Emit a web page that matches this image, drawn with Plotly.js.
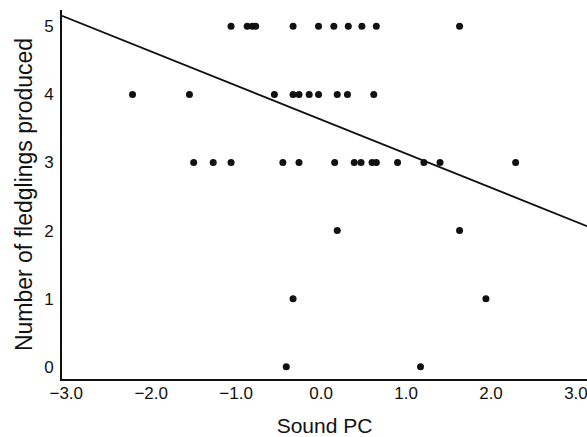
<!DOCTYPE html>
<html>
<head>
<meta charset="utf-8">
<script src="https://cdn.plot.ly/plotly-3.0.1.min.js"></script>
<style>html,body{margin:0;padding:0;background:#fff;}#chart{width:587px;height:437px;}</style>
</head>
<body>
<div id="chart"></div>
<script>
// Sound PC values grouped by number of fledglings produced
const fledglings5 = [-1.06, -0.87, -0.81, -0.77, -0.33, -0.03, 0.15, 0.32, 0.48, 0.65, 1.63];
const fledglings4 = [-2.22, -1.55, -0.55, -0.33, -0.26, -0.14, -0.03, 0.19, 0.31, 0.62];
const fledglings3 = [-1.50, -1.27, -1.06, -0.45, -0.26, 0.16, 0.39, 0.47, 0.60, 0.65, 0.90, 1.21, 1.40, 2.29];
const fledglings2 = [0.19, 1.63];
const fledglings1 = [-0.33, 1.94];
const fledglings0 = [-0.41, 1.17];

// Fitted regression line
const regIntercept = 3.63;
const regSlope = -0.5;

const xTickVals = [-3, -2, -1, 0, 1, 2, 3];
const xTickText = ['\u22123.0', '\u22122.0', '\u22121.0', '0.0', '1.0', '2.0', '3.0'];
const yTickVals = [0, 1, 2, 3, 4, 5];

const xRange = [-3.05, 3.13];
const yRange = [-0.18, 5.24];

const groups = [[fledglings0, 0], [fledglings1, 1], [fledglings2, 2], [fledglings3, 3], [fledglings4, 4], [fledglings5, 5]];
const px = [], py = [];
groups.forEach(([xs, y]) => xs.forEach(x => { px.push(x); py.push(y); }));

const lineX = [xRange[0], xRange[1]];
const lineY = lineX.map(x => regIntercept + regSlope * x);

const font = 'Liberation Sans, Arial, Helvetica, sans-serif';

const data = [
  { type: 'scatter', mode: 'lines', x: lineX, y: lineY,
    line: { color: '#111', width: 1.8 }, hoverinfo: 'skip' },
  { type: 'scatter', mode: 'markers', x: px, y: py,
    marker: { color: '#111', size: 7 } }
];

const layout = {
  width: 587, height: 437,
  margin: { l: 62, r: 0, t: 10, b: 58 },
  paper_bgcolor: '#fff', plot_bgcolor: '#fff',
  showlegend: false,
  font: { family: font, color: '#111', size: 17 },
  xaxis: {
    range: xRange, tickvals: xTickVals, ticktext: xTickText,
    showgrid: false, zeroline: false, showline: true, linecolor: '#111', linewidth: 2,
    ticks: '', ticklen: 0, ticklabelstandoff: -2, ticklabeloverflow: 'allow',
    tickfont: { family: font, size: 17, color: '#111' },
    title: { text: 'Sound PC', font: { family: font, size: 21, color: '#111' }, standoff: 17 }
  },
  yaxis: {
    range: yRange, tickvals: yTickVals,
    showgrid: false, zeroline: false, showline: true, linecolor: '#111', linewidth: 2,
    ticks: '', ticklen: 0, ticklabelstandoff: 3,
    tickfont: { family: font, size: 17, color: '#111' },
    title: { text: 'Number of fledglings produced', font: { family: font, size: 23, color: '#111' }, standoff: 5 }
  }
};

Plotly.newPlot('chart', data, layout, { displayModeBar: false, staticPlot: true });
</script>
</body>
</html>
